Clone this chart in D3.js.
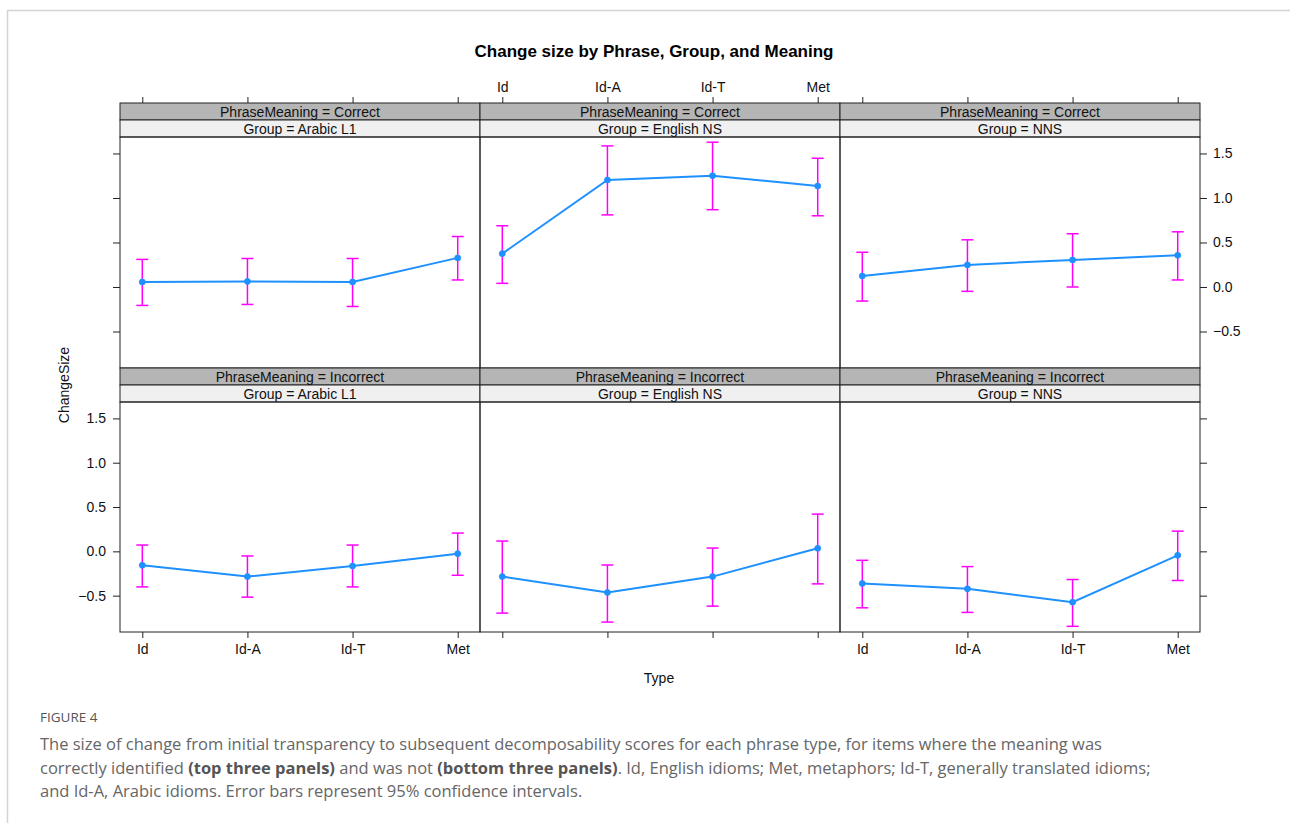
<!DOCTYPE html>
<html>
<head>
<meta charset="utf-8">
<script src="https://cdn.jsdelivr.net/npm/d3@7"></script>
<style>
  html, body { margin: 0; padding: 0; background: #fff; }
  svg { display: block; }
</style>
</head>
<body>
<svg id="chart" width="1290" height="823"></svg>
<script>
// ---------- data ----------
const types = ["Id", "Id-A", "Id-T", "Met"];
const groups = ["Arabic L1", "English NS", "NNS"];
const meanings = ["Correct", "Incorrect"];
const yTicks = [-0.5, 0.0, 0.5, 1.0, 1.5];

const correctArabicFit   = [0.056, 0.063, 0.056, 0.327];
const correctArabicLower = [-0.207, -0.196, -0.219, 0.079];
const correctArabicUpper = [0.310, 0.320, 0.320, 0.567];

const correctEnglishFit   = [0.375, 1.202, 1.250, 1.134];
const correctEnglishLower = [0.041, 0.810, 0.868, 0.800];
const correctEnglishUpper = [0.688, 1.585, 1.627, 1.446];

const correctNNSFit   = [0.124, 0.248, 0.304, 0.356];
const correctNNSLower = [-0.158, -0.049, 0.000, 0.079];
const correctNNSUpper = [0.390, 0.530, 0.598, 0.620];

const incorrectArabicFit   = [-0.157, -0.285, -0.165, -0.026];
const incorrectArabicLower = [-0.401, -0.517, -0.401, -0.270];
const incorrectArabicUpper = [0.071, -0.052, 0.071, 0.206];

const incorrectEnglishFit   = [-0.285, -0.464, -0.285, 0.034];
const incorrectEnglishLower = [-0.697, -0.798, -0.618, -0.367];
const incorrectEnglishUpper = [0.116, -0.154, 0.037, 0.420];

const incorrectNNSFit   = [-0.363, -0.423, -0.573, -0.045];
const incorrectNNSLower = [-0.637, -0.689, -0.846, -0.329];
const incorrectNNSUpper = [-0.101, -0.172, -0.318, 0.228];

const panels = [
  { meaning: 0, group: 0, fit: correctArabicFit, lower: correctArabicLower, upper: correctArabicUpper },
  { meaning: 0, group: 1, fit: correctEnglishFit, lower: correctEnglishLower, upper: correctEnglishUpper },
  { meaning: 0, group: 2, fit: correctNNSFit, lower: correctNNSLower, upper: correctNNSUpper },
  { meaning: 1, group: 0, fit: incorrectArabicFit, lower: incorrectArabicLower, upper: incorrectArabicUpper },
  { meaning: 1, group: 1, fit: incorrectEnglishFit, lower: incorrectEnglishLower, upper: incorrectEnglishUpper },
  { meaning: 1, group: 2, fit: incorrectNNSFit, lower: incorrectNNSLower, upper: incorrectNNSUpper }
];

// ---------- layout ----------
const svg = d3.select("#chart");
const FONT = "'Liberation Sans', Arial, Helvetica, sans-serif";
const colX = [120, 480, 840];
const panelW = 360;
const stripH = 17;
const rows = [
  { stripTop: 103, top: 137, bottom: 368 },
  { stripTop: 368, top: 402, bottom: 632 }
];
const yDomain = [-0.91, 1.685];
const lineColor = "#1E90FF";
const barColor = "#FF00FF";
const tickLen = 6;

// page frame
svg.append("rect").attr("width", 1290).attr("height", 823).attr("fill", "#fff");
svg.append("line").attr("x1", 7).attr("x2", 1290).attr("y1", 10.5).attr("y2", 10.5)
  .attr("stroke", "#d4d4d4").attr("stroke-width", 1.5);
svg.append("line").attr("x1", 7.5).attr("x2", 7.5).attr("y1", 10).attr("y2", 823)
  .attr("stroke", "#d4d4d4").attr("stroke-width", 1.5);

// title
svg.append("text").attr("x", 654).attr("y", 57).attr("text-anchor", "middle")
  .attr("font-family", FONT).attr("font-size", 17).attr("font-weight", "bold")
  .text("Change size by Phrase, Group, and Meaning");

panels.forEach(p => {
  const x0 = colX[p.group];
  const r = rows[p.meaning];
  const x = d3.scaleLinear().domain([-0.212, types.length - 1 + 0.212]).range([x0, x0 + panelW]);
  const y = d3.scaleLinear().domain(yDomain).range([r.bottom, r.top]);
  const g = svg.append("g");

  // strips
  g.append("rect").attr("x", x0).attr("y", r.stripTop).attr("width", panelW).attr("height", stripH)
    .attr("fill", "#b5b5b5").attr("stroke", "#222").attr("stroke-width", 1);
  g.append("rect").attr("x", x0).attr("y", r.stripTop + stripH).attr("width", panelW).attr("height", stripH)
    .attr("fill", "#f0f0f0").attr("stroke", "#222").attr("stroke-width", 1);
  g.append("text").attr("x", x0 + panelW / 2).attr("y", r.stripTop + 13.5).attr("text-anchor", "middle")
    .attr("font-family", FONT).attr("font-size", 14).attr("fill", "#111")
    .text("PhraseMeaning = " + meanings[p.meaning]);
  g.append("text").attr("x", x0 + panelW / 2).attr("y", r.stripTop + stripH + 13.5).attr("text-anchor", "middle")
    .attr("font-family", FONT).attr("font-size", 14).attr("fill", "#111")
    .text("Group = " + groups[p.group]);

  // panel box
  g.append("rect").attr("x", x0).attr("y", r.top).attr("width", panelW).attr("height", r.bottom - r.top)
    .attr("fill", "none").attr("stroke", "#222").attr("stroke-width", 1);

  // axes ticks
  const xTickScale = d3.scalePoint().domain(types).range([x(0), x(types.length - 1)]);
  if (p.meaning === 0) {
    const ax = d3.axisTop(xTickScale).tickSize(tickLen).tickPadding(5)
      .tickFormat(p.group === 1 ? (d => d) : () => "");
    const ag = g.append("g").attr("transform", `translate(0,${r.stripTop})`).call(ax);
    styleAxis(ag);
  } else {
    const ax = d3.axisBottom(xTickScale).tickSize(tickLen).tickPadding(6)
      .tickFormat(p.group !== 1 ? (d => d) : () => "");
    const ag = g.append("g").attr("transform", `translate(0,${r.bottom})`).call(ax);
    styleAxis(ag);
  }
  if (p.group === 0) {
    const ay = d3.axisLeft(y).tickValues(yTicks).tickSize(tickLen + 1).tickPadding(7)
      .tickFormat(p.meaning === 1 ? d3.format(".1f") : () => "");
    const ag = g.append("g").attr("transform", `translate(${x0},0)`).call(ay);
    styleAxis(ag);
  }
  if (p.group === 2) {
    const ay = d3.axisRight(y).tickValues(yTicks).tickSize(tickLen + 1).tickPadding(6)
      .tickFormat(p.meaning === 0 ? d3.format(".1f") : () => "");
    const ag = g.append("g").attr("transform", `translate(${x0 + panelW},0)`).call(ay);
    styleAxis(ag);
  }

  // error bars
  const cap = 6;
  const eb = g.append("g").attr("stroke", barColor).attr("stroke-width", 1.5).attr("fill", "none");
  types.forEach((t, i) => {
    eb.append("line").attr("x1", x(i)).attr("x2", x(i)).attr("y1", y(p.lower[i])).attr("y2", y(p.upper[i]));
    eb.append("line").attr("x1", x(i) - cap).attr("x2", x(i) + cap).attr("y1", y(p.lower[i])).attr("y2", y(p.lower[i]));
    eb.append("line").attr("x1", x(i) - cap).attr("x2", x(i) + cap).attr("y1", y(p.upper[i])).attr("y2", y(p.upper[i]));
  });

  // fitted line
  const line = d3.line().x((d, i) => x(i)).y(d => y(d));
  g.append("path").attr("d", line(p.fit)).attr("fill", "none")
    .attr("stroke", lineColor).attr("stroke-width", 2);
  g.selectAll("circle.pt").data(p.fit).enter().append("circle")
    .attr("cx", (d, i) => x(i)).attr("cy", d => y(d)).attr("r", 3)
    .attr("fill", lineColor).attr("stroke", lineColor).attr("stroke-width", 0.8);
});

function styleAxis(ag) {
  ag.select(".domain").remove();
  ag.selectAll(".tick line").attr("stroke", "#222").attr("stroke-width", 1);
  ag.selectAll(".tick text").attr("font-family", FONT).attr("font-size", 14).attr("fill", "#111");
}

// axis titles
svg.append("text").attr("transform", "translate(69,385) rotate(-90)").attr("text-anchor", "middle")
  .attr("font-family", FONT).attr("font-size", 14).attr("fill", "#111").text("ChangeSize");
svg.append("text").attr("x", 659).attr("y", 683).attr("text-anchor", "middle")
  .attr("font-family", FONT).attr("font-size", 14).attr("fill", "#111").text("Type");

// caption
const CAP = "'Open Sans', 'Noto Sans', sans-serif";
svg.append("text").attr("x", 40).attr("y", 722).attr("font-family", CAP).attr("font-size", 13.5)
  .attr("fill", "#555").text("FIGURE 4");
svg.append("text").attr("x", 40).attr("y", 750).attr("font-family", CAP).attr("font-size", 16.5)
  .attr("fill", "#666")
  .text("The size of change from initial transparency to subsequent decomposability scores for each phrase type, for items where the meaning was");
const l2 = svg.append("text").attr("x", 40).attr("y", 774).attr("font-family", CAP).attr("font-size", 16.5)
  .attr("fill", "#666");
l2.append("tspan").text("correctly identified ");
l2.append("tspan").attr("font-weight", "bold").attr("fill", "#555").text("(top three panels)");
l2.append("tspan").text(" and was not ");
l2.append("tspan").attr("font-weight", "bold").attr("fill", "#555").text("(bottom three panels)");
l2.append("tspan").text(". Id, English idioms; Met, metaphors; Id-T, generally translated idioms;");
svg.append("text").attr("x", 40).attr("y", 797).attr("font-family", CAP).attr("font-size", 16.5)
  .attr("fill", "#666")
  .text("and Id-A, Arabic idioms. Error bars represent 95% confidence intervals.");
</script>
</body>
</html>
